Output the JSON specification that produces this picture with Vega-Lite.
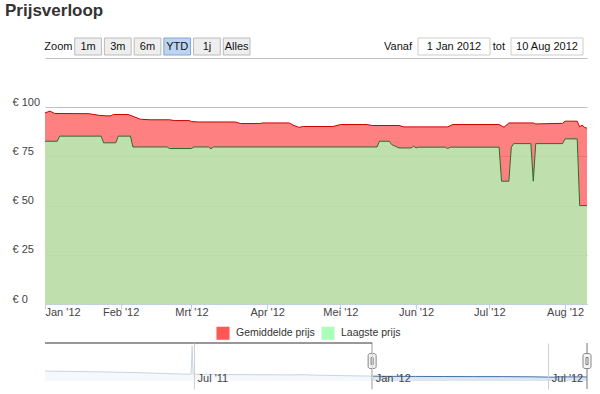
{
  "$schema": "https://vega.github.io/schema/vega-lite/v6.json",
  "padding": {"left": 5, "top": 1, "right": 0, "bottom": 0},
  "title": {"text": "Prijsverloop", "anchor": "start", "font": "Liberation Sans", "fontSize": 17, "fontWeight": "bold", "color": "#333333", "offset": 18, "dx": -7},
  "config": {"view": {"stroke": null}, "font": "Liberation Sans"},
  "datasets": {
    "buttons": [{"btn": "Zoom"}, {"btn": "1m"}, {"btn": "3m"}, {"btn": "6m"}, {"btn": "YTD"}, {"btn": "1j"}, {"btn": "Alles"}],
    "inputs": [{"label": "Vanaf", "value": "1 Jan 2012"}, {"label": "tot", "value": "10 Aug 2012"}],
    "handles": [{"d": "2012-01-01"}, {"d": "2012-08-10"}],
    "mask": [{"from": "2011-01-28", "to": "2012-01-01"}],
    "main": [
      {"date": "2012-01-01", "series": "Gemiddelde prijs", "price": 97.1},
      {"date": "2012-01-03", "series": "Gemiddelde prijs", "price": 98.0},
      {"date": "2012-01-05", "series": "Gemiddelde prijs", "price": 96.8},
      {"date": "2012-01-19", "series": "Gemiddelde prijs", "price": 96.7},
      {"date": "2012-01-23", "series": "Gemiddelde prijs", "price": 95.9},
      {"date": "2012-01-26", "series": "Gemiddelde prijs", "price": 95.6},
      {"date": "2012-01-28", "series": "Gemiddelde prijs", "price": 95.6},
      {"date": "2012-01-29", "series": "Gemiddelde prijs", "price": 96.3},
      {"date": "2012-02-04", "series": "Gemiddelde prijs", "price": 96.3},
      {"date": "2012-02-06", "series": "Gemiddelde prijs", "price": 95.4},
      {"date": "2012-02-09", "series": "Gemiddelde prijs", "price": 93.9},
      {"date": "2012-02-13", "series": "Gemiddelde prijs", "price": 93.6},
      {"date": "2012-02-21", "series": "Gemiddelde prijs", "price": 93.6},
      {"date": "2012-02-23", "series": "Gemiddelde prijs", "price": 93.2},
      {"date": "2012-02-29", "series": "Gemiddelde prijs", "price": 93.2},
      {"date": "2012-03-01", "series": "Gemiddelde prijs", "price": 92.7},
      {"date": "2012-03-04", "series": "Gemiddelde prijs", "price": 92.5},
      {"date": "2012-03-19", "series": "Gemiddelde prijs", "price": 92.5},
      {"date": "2012-03-21", "series": "Gemiddelde prijs", "price": 91.7},
      {"date": "2012-03-29", "series": "Gemiddelde prijs", "price": 91.7},
      {"date": "2012-03-30", "series": "Gemiddelde prijs", "price": 92.0},
      {"date": "2012-04-10", "series": "Gemiddelde prijs", "price": 92.0},
      {"date": "2012-04-12", "series": "Gemiddelde prijs", "price": 90.7},
      {"date": "2012-04-14", "series": "Gemiddelde prijs", "price": 89.8},
      {"date": "2012-04-16", "series": "Gemiddelde prijs", "price": 90.2},
      {"date": "2012-04-28", "series": "Gemiddelde prijs", "price": 90.2},
      {"date": "2012-05-01", "series": "Gemiddelde prijs", "price": 91.2},
      {"date": "2012-05-12", "series": "Gemiddelde prijs", "price": 91.2},
      {"date": "2012-05-14", "series": "Gemiddelde prijs", "price": 90.7},
      {"date": "2012-05-25", "series": "Gemiddelde prijs", "price": 90.7},
      {"date": "2012-05-27", "series": "Gemiddelde prijs", "price": 90.0},
      {"date": "2012-06-14", "series": "Gemiddelde prijs", "price": 90.0},
      {"date": "2012-06-16", "series": "Gemiddelde prijs", "price": 91.2},
      {"date": "2012-07-05", "series": "Gemiddelde prijs", "price": 91.2},
      {"date": "2012-07-07", "series": "Gemiddelde prijs", "price": 89.8},
      {"date": "2012-07-09", "series": "Gemiddelde prijs", "price": 92.0},
      {"date": "2012-07-19", "series": "Gemiddelde prijs", "price": 92.0},
      {"date": "2012-07-20", "series": "Gemiddelde prijs", "price": 91.5},
      {"date": "2012-07-31", "series": "Gemiddelde prijs", "price": 91.8},
      {"date": "2012-08-01", "series": "Gemiddelde prijs", "price": 92.9},
      {"date": "2012-08-06", "series": "Gemiddelde prijs", "price": 92.9},
      {"date": "2012-08-07", "series": "Gemiddelde prijs", "price": 90.0},
      {"date": "2012-08-08", "series": "Gemiddelde prijs", "price": 90.9},
      {"date": "2012-08-09", "series": "Gemiddelde prijs", "price": 89.8},
      {"date": "2012-08-10", "series": "Gemiddelde prijs", "price": 89.3},
      {"date": "2012-01-01", "series": "Laagste prijs", "price": 82.7},
      {"date": "2012-01-06", "series": "Laagste prijs", "price": 82.7},
      {"date": "2012-01-07", "series": "Laagste prijs", "price": 85.3},
      {"date": "2012-01-24", "series": "Laagste prijs", "price": 85.3},
      {"date": "2012-01-25", "series": "Laagste prijs", "price": 81.9},
      {"date": "2012-01-30", "series": "Laagste prijs", "price": 81.9},
      {"date": "2012-01-31", "series": "Laagste prijs", "price": 85.3},
      {"date": "2012-02-05", "series": "Laagste prijs", "price": 85.3},
      {"date": "2012-02-06", "series": "Laagste prijs", "price": 79.8},
      {"date": "2012-02-20", "series": "Laagste prijs", "price": 79.8},
      {"date": "2012-02-21", "series": "Laagste prijs", "price": 79.0},
      {"date": "2012-03-01", "series": "Laagste prijs", "price": 79.0},
      {"date": "2012-03-02", "series": "Laagste prijs", "price": 79.8},
      {"date": "2012-03-08", "series": "Laagste prijs", "price": 79.8},
      {"date": "2012-03-09", "series": "Laagste prijs", "price": 78.9},
      {"date": "2012-03-10", "series": "Laagste prijs", "price": 79.8},
      {"date": "2012-05-16", "series": "Laagste prijs", "price": 79.8},
      {"date": "2012-05-17", "series": "Laagste prijs", "price": 82.7},
      {"date": "2012-05-21", "series": "Laagste prijs", "price": 82.7},
      {"date": "2012-05-22", "series": "Laagste prijs", "price": 81.0},
      {"date": "2012-05-25", "series": "Laagste prijs", "price": 79.3},
      {"date": "2012-05-30", "series": "Laagste prijs", "price": 79.3},
      {"date": "2012-05-31", "series": "Laagste prijs", "price": 80.2},
      {"date": "2012-06-01", "series": "Laagste prijs", "price": 79.3},
      {"date": "2012-06-02", "series": "Laagste prijs", "price": 79.7},
      {"date": "2012-06-13", "series": "Laagste prijs", "price": 79.7},
      {"date": "2012-06-14", "series": "Laagste prijs", "price": 79.0},
      {"date": "2012-06-15", "series": "Laagste prijs", "price": 79.7},
      {"date": "2012-07-05", "series": "Laagste prijs", "price": 79.7},
      {"date": "2012-07-06", "series": "Laagste prijs", "price": 62.4},
      {"date": "2012-07-09", "series": "Laagste prijs", "price": 62.4},
      {"date": "2012-07-10", "series": "Laagste prijs", "price": 79.7},
      {"date": "2012-07-11", "series": "Laagste prijs", "price": 81.5},
      {"date": "2012-07-18", "series": "Laagste prijs", "price": 81.5},
      {"date": "2012-07-19", "series": "Laagste prijs", "price": 62.4},
      {"date": "2012-07-20", "series": "Laagste prijs", "price": 81.5},
      {"date": "2012-07-31", "series": "Laagste prijs", "price": 81.5},
      {"date": "2012-08-01", "series": "Laagste prijs", "price": 83.9},
      {"date": "2012-08-06", "series": "Laagste prijs", "price": 83.9},
      {"date": "2012-08-07", "series": "Laagste prijs", "price": 50.0},
      {"date": "2012-08-10", "series": "Laagste prijs", "price": 50.0}
    ],
    "nav": [
      {"date": "2011-01-28", "v": 205}, {"date": "2011-02-20", "v": 198}, {"date": "2011-03-15", "v": 192},
      {"date": "2011-04-10", "v": 182}, {"date": "2011-05-05", "v": 170}, {"date": "2011-05-30", "v": 155},
      {"date": "2011-06-20", "v": 142}, {"date": "2011-06-28", "v": 140}, {"date": "2011-06-29", "v": 718},
      {"date": "2011-06-30", "v": 138}, {"date": "2011-07-25", "v": 135}, {"date": "2011-08-20", "v": 130},
      {"date": "2011-09-15", "v": 128}, {"date": "2011-10-10", "v": 126}, {"date": "2011-10-22", "v": 130},
      {"date": "2011-11-05", "v": 120}, {"date": "2011-12-01", "v": 110}, {"date": "2011-12-31", "v": 100},
      {"date": "2012-01-15", "v": 96}, {"date": "2012-02-15", "v": 94}, {"date": "2012-03-15", "v": 92},
      {"date": "2012-04-15", "v": 90}, {"date": "2012-05-15", "v": 90}, {"date": "2012-06-15", "v": 86},
      {"date": "2012-07-06", "v": 78}, {"date": "2012-07-10", "v": 86}, {"date": "2012-07-25", "v": 84},
      {"date": "2012-08-06", "v": 86}, {"date": "2012-08-10", "v": 80}
    ]
  },
  "spacing": 2,
  "vconcat": [
    {
      "width": 542,
      "height": 17,
      "layer": [
        {
          "data": {"name": "buttons"},
          "encoding": {"x": {"field": "btn", "type": "nominal", "scale": {"domain": ["Zoom", "1m", "3m", "6m", "YTD", "1j", "Alles"], "range": [0, 205], "paddingInner": 0.1, "paddingOuter": 0}, "axis": null}},
          "layer": [
            {
              "transform": [{"filter": "datum.btn !== 'Zoom'"}],
              "mark": {"type": "rect", "strokeWidth": 1},
              "encoding": {
                "fill": {"condition": {"test": "datum.btn === 'YTD'", "value": "#bcd3f2"}, "value": "#eeeeee"},
                "stroke": {"condition": {"test": "datum.btn === 'YTD'", "value": "#7fa6dc"}, "value": "#bbbbbb"}
              }
            },
            {"mark": {"type": "text", "fontSize": 11, "fill": "#111111"}, "encoding": {"text": {"field": "btn"}}}
          ]
        },
        {
          "data": {"name": "inputs"},
          "encoding": {"x": {"field": "value", "type": "nominal", "scale": {"domain": ["1 Jan 2012", "10 Aug 2012"], "range": [373, 538], "paddingInner": 0.226, "paddingOuter": 0}, "axis": null}},
          "layer": [
            {"mark": {"type": "rect", "fill": "white", "stroke": "#cccccc", "strokeWidth": 1}},
            {"mark": {"type": "text", "fontSize": 11, "fill": "#111111"}, "encoding": {"text": {"field": "value"}}},
            {"mark": {"type": "text", "fontSize": 11, "fill": "#111111", "align": "right", "dx": -6},
             "encoding": {"x": {"field": "value", "type": "nominal", "bandPosition": 0, "scale": {"domain": ["1 Jan 2012", "10 Aug 2012"], "range": [373, 538], "paddingInner": 0.226, "paddingOuter": 0}, "axis": null}, "text": {"field": "label"}}}
          ]
        }
      ],
      "resolve": {"scale": {"x": "independent"}}
    },
    {
      "spacing": 25,
      "vconcat": [
        {
          "width": 542,
          "height": 246,
          "data": {"name": "main"},
          "encoding": {
            "x": {"field": "date", "type": "temporal",
              "scale": {"type": "utc", "nice": false, "domain": [{"year": 2012, "month": 1, "date": 1, "utc": true}, {"year": 2012, "month": 8, "date": 10, "utc": true}]},
              "axis": {"title": null, "grid": false,
                "values": [{"year": 2012, "month": 1, "date": 1, "utc": true}, {"year": 2012, "month": 2, "date": 1, "utc": true}, {"year": 2012, "month": 3, "date": 1, "utc": true}, {"year": 2012, "month": 4, "date": 1, "utc": true}, {"year": 2012, "month": 5, "date": 1, "utc": true}, {"year": 2012, "month": 6, "date": 1, "utc": true}, {"year": 2012, "month": 7, "date": 1, "utc": true}, {"year": 2012, "month": 8, "date": 1, "utc": true}],
                "labelExpr": "['Jan','Feb','Mrt','Apr','Mei','Jun','Jul','Aug','Sep','Okt','Nov','Dec'][utcmonth(datum.value)] + \" '\" + utcFormat(datum.value, '%y')",
                "domainColor": "#C0D0E0", "tickColor": "#C0D0E0", "tickSize": 5, "labelFontSize": 11, "labelColor": "#444444", "labelFont": "Liberation Sans", "labelFlush": 5, "labelPadding": -3, "labelOverlap": false}
            }
          },
          "layer": [
            {
              "mark": {"type": "area", "fillOpacity": 0.75},
              "encoding": {
                "y": {"field": "price", "type": "quantitative", "stack": null,
                  "scale": {"domain": [0, 125], "nice": false, "zero": true},
                  "axis": {"title": null, "values": [0, 25, 50, 75, 100, 125], "labelExpr": "datum.value == 125 ? '' : '€ ' + datum.value",
                    "grid": true, "gridColor": "#C0C0C0", "domain": false, "ticks": false, "tickSize": 0,
                    "labelAlign": "left", "labelPadding": 33, "labelBaseline": "middle", "labelOffset": -5,
                    "labelFontSize": 11, "labelColor": "#444444", "labelFont": "Liberation Sans"}},
                "color": {"field": "series", "type": "nominal",
                  "scale": {"domain": ["Gemiddelde prijs", "Laagste prijs"], "range": ["#ff5656", "#aaffbb"]},
                  "legend": {"title": null, "orient": "none", "direction": "horizontal", "legendX": 171, "legendY": 288,
                    "symbolType": "square", "symbolSize": 170, "symbolStrokeWidth": 0, "symbolOpacity": 1,
                    "labelFontSize": 10.5, "labelColor": "#333333", "labelFont": "Liberation Sans", "labelOffset": 6, "columnPadding": 6}}
              }
            },
            {
              "mark": {"type": "line", "strokeWidth": 1},
              "encoding": {
                "y": {"field": "price", "type": "quantitative"},
                "stroke": {"field": "series", "type": "nominal", "scale": {"domain": ["Gemiddelde prijs", "Laagste prijs"], "range": ["#cc0000", "#2e6b2e"]}, "legend": null}
              }
            }
          ]
        },
        {
          "width": 542,
          "height": 46,
          "encoding": {
            "x": {"field": "date", "type": "temporal",
              "scale": {"type": "utc", "nice": false, "domain": [{"year": 2011, "month": 1, "date": 28, "utc": true}, {"year": 2012, "month": 8, "date": 10, "utc": true}]},
              "axis": {"title": null, "values": [{"year": 2011, "month": 7, "date": 1, "utc": true}, {"year": 2012, "month": 1, "date": 1, "utc": true}, {"year": 2012, "month": 7, "date": 1, "utc": true}],
                "labelExpr": "['Jan','Feb','Mrt','Apr','Mei','Jun','Jul','Aug','Sep','Okt','Nov','Dec'][utcmonth(datum.value)] + \" '\" + utcFormat(datum.value, '%y')",
                "grid": true, "gridColor": "#d0d0d0", "domain": false, "ticks": false, "tickSize": 0,
                "labelAlign": "left", "labelPadding": -11, "labelBaseline": "middle", "labelOffset": 3,
                "labelFontSize": 11, "labelColor": "#444444", "labelFont": "Liberation Sans", "labelFlush": false, "labelOverlap": false, "zindex": 1}
            }
          },
          "layer": [
            {
              "data": {"name": "nav"},
              "mark": {"type": "area", "fill": "#cddbee", "line": {"color": "#4572A7", "strokeWidth": 1}},
              "encoding": {
                "y": {"field": "v", "type": "quantitative", "scale": {"domain": [-164, 780], "nice": false, "zero": false}, "axis": null},
                "y2": {"datum": 0}
              }
            },
            {
              "data": {"name": "mask"},
              "mark": {"type": "rect", "fill": "white", "opacity": 0.7},
              "encoding": {"x": {"field": "from", "type": "temporal"}, "x2": {"field": "to"}}
            },
            {
              "data": {"name": "mask"},
              "mark": {"type": "rule", "color": "#333333", "strokeWidth": 1},
              "encoding": {"x": {"field": "from", "type": "temporal"}, "x2": {"field": "to"}, "y": {"datum": 780}}
            },
            {
              "data": {"name": "handles"},
              "mark": {"type": "rule", "color": "#777777", "strokeWidth": 1},
              "encoding": {"x": {"field": "d", "type": "temporal"}}
            },
            {
              "data": {"name": "handles"},
              "mark": {"type": "tick", "orient": "vertical", "thickness": 8, "size": 15, "fill": "#f2f2f2", "stroke": "#888888", "strokeWidth": 1, "opacity": 1, "cornerRadius": 2},
              "encoding": {"x": {"field": "d", "type": "temporal"}, "y": {"datum": 410}}
            },
            {
              "data": {"name": "handles"},
              "mark": {"type": "tick", "orient": "vertical", "thickness": 2, "size": 7, "fill": "#ffffff", "stroke": "#777777", "strokeWidth": 1, "opacity": 1},
              "encoding": {"x": {"field": "d", "type": "temporal"}, "y": {"datum": 410}}
            }
          ]
        }
      ]
    }
  ]
}
